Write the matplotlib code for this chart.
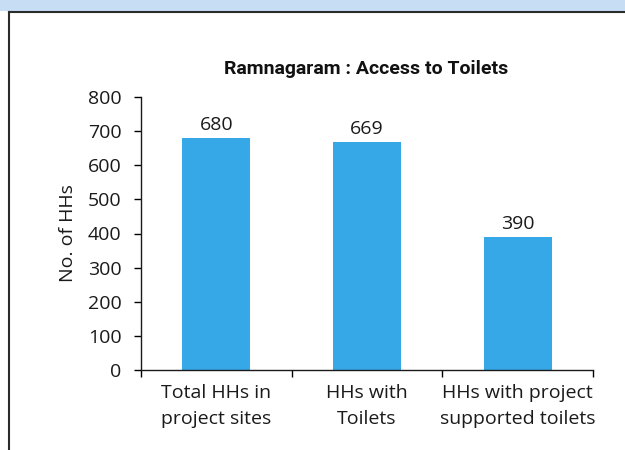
import matplotlib
matplotlib.use("Agg")
import matplotlib.pyplot as plt
from matplotlib.patches import Rectangle
from matplotlib.lines import Line2D

categories = ["Total HHs in\nproject sites", "HHs with\nToilets", "HHs with project\nsupported toilets"]
values = [680, 669, 390]
yticks = [0, 100, 200, 300, 400, 500, 600, 700, 800]

W, H = 625, 450
fig = plt.figure(figsize=(W / 100, H / 100), dpi=100)
fig.patch.set_facecolor("white")

# header band and frame edges
fig.add_artist(Rectangle((0, 1 - 11 / H), 1, 11 / H, transform=fig.transFigure,
                         facecolor="#c6ddf4", edgecolor="none", zorder=0))
fig.add_artist(Line2D([9 / W, 1], [1 - 11.5 / H, 1 - 11.5 / H], transform=fig.transFigure,
                      color="#2b2b2b", lw=1.5))
fig.add_artist(Line2D([9 / W, 9 / W], [0, 1 - 11.5 / H], transform=fig.transFigure,
                      color="#2b2b2b", lw=1.5))

font = "Open Sans"
fs = 14
ax = fig.add_axes([141 / W, 1 - 370 / H, (593 - 141) / W, (370 - 97) / H])
x = list(range(len(categories)))
bars = ax.bar(x, values, width=0.45, color="#36a8e7", zorder=2)
for xi, v in zip(x, values):
    ax.text(xi, v + 12, str(v), ha="center", va="bottom", fontsize=fs, family=font, color="#1a1a1a")

ax.set_xlim(-0.5, len(categories) - 0.5)
ax.set_ylim(0, 800)
ax.set_yticks(yticks)
ax.set_yticklabels([str(t) for t in yticks], fontsize=fs, family=font, color="#1a1a1a")
ax.set_xticks([i - 0.5 for i in range(len(categories) + 1)])
ax.set_xticklabels([])
ax.set_xticks(x, minor=True)
ax.set_xticklabels(categories, minor=True, fontsize=fs, family=font, color="#1a1a1a",
                   linespacing=1.6)
ax.tick_params(axis="x", which="minor", length=0, pad=10)
ax.tick_params(axis="x", which="major", length=5, width=1, direction="out")
ax.tick_params(axis="y", length=5, width=1, direction="out", pad=9)
for s in ["top", "right"]:
    ax.spines[s].set_visible(False)
for s in ["left", "bottom"]:
    ax.spines[s].set_color("#1a1a1a")
    ax.spines[s].set_linewidth(1)

ax.set_ylabel("No. of HHs", fontsize=fs, family=font, color="#1a1a1a", labelpad=8)

fig.text(366 / W, 1 - 69 / H, "Ramnagaram : Access to Toilets", ha="center", va="center",
         fontsize=14, fontweight="bold", family=["Roboto", "DejaVu Sans"],
         color="#111111")

fig.savefig("out.png", dpi=100)
